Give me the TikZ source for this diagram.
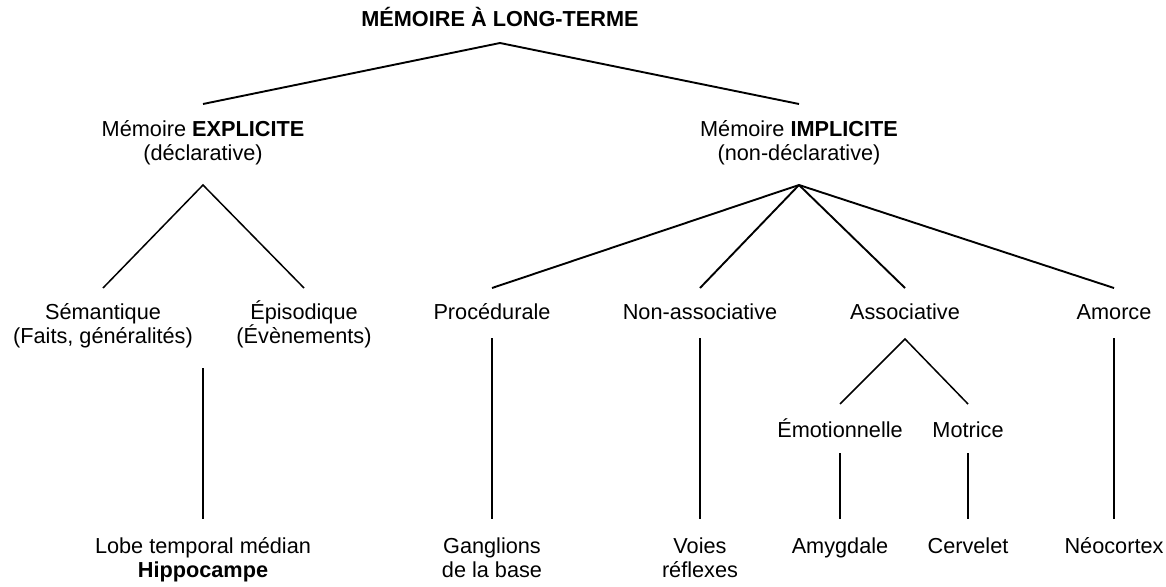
\documentclass[tikz,border=0pt]{standalone}
\usepackage{fontspec}
\setmainfont{Liberation Sans}
\tikzset{
  lbl/.style={
    inner sep=0pt,
    outer sep=0pt,
    anchor=base,
    align=center,
    font=\fontsize{21.7}{24}\selectfont
  },
  toplbl/.style={
    lbl,
    font=\fontsize{21.7}{24}\selectfont\bfseries
  },
  mainbranch/.style={line width=1.9pt},
  branch/.style={line width=1.5pt}
}

\begin{document}
\begin{tikzpicture}[x=1pt, y=-1pt]
    \useasboundingbox (0,0) rectangle (1166,586);

    % levels (base = last line)
    \node (ltm) [toplbl] at (500,27) {MÉMOIRE À LONG-TERME};
    \node (expl) [lbl] at (203,160) {Mémoire \textbf{EXPLICITE}\\(déclarative)};
    \node (impl) [lbl] at (799,160) {Mémoire \textbf{IMPLICITE}\\(non-déclarative)};

    \node (sem) [lbl] at (103,343) {Sémantique\\(Faits, généralités)};
    \node (epi) [lbl] at (304,343) {Épisodique\\(Évènements)};
    \node (proc) [lbl] at (492,319) {Procédurale};
    \node (nonassoc) [lbl] at (700,319) {Non-associative};
    \node (assoc) [lbl] at (905,319) {Associative};
    \node (amorce) [lbl] at (1114,319) {Amorce};

    \node (emo) [lbl] at (840,437) {Émotionnelle};
    \node (mot) [lbl] at (968,437) {Motrice};

    \node (hippo) [lbl] at (203,577) {Lobe temporal médian\\\textbf{Hippocampe}};
    \node (gangl) [lbl] at (492,577) {Ganglions\\de la base};
    \node (voies) [lbl] at (700,577) {Voies\\réflexes};
    \node (amyg) [lbl] at (840,553) {Amygdale};
    \node (cerv) [lbl] at (968,553) {Cervelet};
    \node (neo) [lbl] at (1114,553) {Néocortex};

    % branches
    \draw[mainbranch] ([yshift=56pt]expl.base) -- ([yshift=-16pt]ltm.base) -- ([yshift=56pt]impl.base);
    \draw[branch] ([yshift=55pt]sem.base) -- ([yshift=-25pt]expl.base) -- ([yshift=55pt]epi.base);
    \foreach \child in {proc, nonassoc, assoc, amorce}
      \draw[mainbranch] ([yshift=-25pt]impl.base) -- ([yshift=31pt]\child.base);
    \draw[branch] ([yshift=33pt]emo.base) -- ([yshift=-20pt]assoc.base) -- ([yshift=33pt]mot.base);

    % regions
    \draw[branch] ([yshift=-208pt]expl.base) -- ([yshift=58pt]hippo.base);
    \draw[branch] ([yshift=-19pt]proc.base) -- ([yshift=58pt]gangl.base);
    \draw[branch] ([yshift=-19pt]nonassoc.base) -- ([yshift=58pt]voies.base);
    \draw[branch] ([yshift=-16pt]emo.base) -- ([yshift=34pt]amyg.base);
    \draw[branch] ([yshift=-16pt]mot.base) -- ([yshift=34pt]cerv.base);
    \draw[branch] ([yshift=-19pt]amorce.base) -- ([yshift=34pt]neo.base);
\end{tikzpicture}
\end{document}
